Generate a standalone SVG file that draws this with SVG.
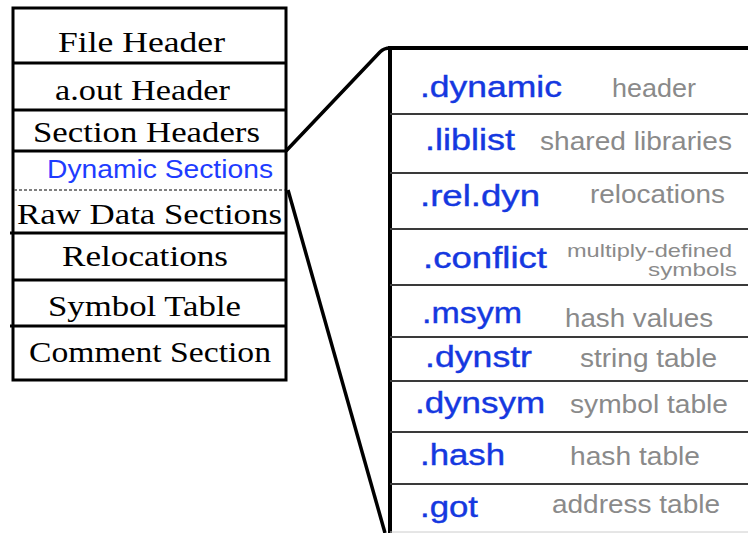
<svg xmlns="http://www.w3.org/2000/svg" width="748" height="533" viewBox="0 0 748 533">
<style>
.box{fill:#fff;stroke:#000;stroke-width:3}
.sep{stroke:#000;stroke-width:3}
.serif{font-family:"Liberation Serif","Times New Roman",serif;font-size:30px;fill:#000}
.blueL{font-family:"Liberation Sans",Arial,sans-serif;font-size:26px;fill:#1e3cff}
.sec{font-family:"Liberation Sans",Arial,sans-serif;font-size:30px;fill:#1538e0;stroke:#1538e0;stroke-width:0.4}
.desc{font-family:"Liberation Sans",Arial,sans-serif;font-size:26px;fill:#8a8a8a}
.small{font-family:"Liberation Sans",Arial,sans-serif;font-size:19px;fill:#8a8a8a}
.rsep{stroke:#3a3a3a;stroke-width:2}
.conn{fill:none;stroke:#000;stroke-width:3.5}
</style>
<rect width="748" height="533" fill="#fff"/>
<g id="file-layout">
<rect class="box" x="13" y="8" width="273" height="372"/>
<line class="sep" x1="13" y1="63" x2="286" y2="63"/>
<line class="sep" x1="13" y1="110" x2="286" y2="110"/>
<line class="sep" x1="13" y1="151" x2="286" y2="151"/>
<line x1="14" y1="190" x2="285" y2="190" stroke="#555" stroke-width="1.5" stroke-dasharray="3,2"/>
<line class="sep" x1="10" y1="233" x2="286" y2="233"/>
<line class="sep" x1="13" y1="280" x2="286" y2="280"/>
<line class="sep" x1="10" y1="326" x2="286" y2="326"/>
</g>
<g id="n-file-header"><text class="serif" x="58" y="52" textLength="167" lengthAdjust="spacingAndGlyphs">File Header</text></g>
<g id="n-aout-header"><text class="serif" x="55" y="100" textLength="175" lengthAdjust="spacingAndGlyphs">a.out Header</text></g>
<g id="n-section-headers"><text class="serif" x="33" y="142" textLength="227" lengthAdjust="spacingAndGlyphs">Section Headers</text></g>
<g id="n-dynamic-sections"><text class="blueL" x="47" y="178" textLength="226" lengthAdjust="spacingAndGlyphs">Dynamic Sections</text></g>
<g id="n-raw-data"><text class="serif" x="17" y="224" textLength="265" lengthAdjust="spacingAndGlyphs">Raw Data Sections</text></g>
<g id="n-relocations"><text class="serif" x="62" y="266" textLength="166" lengthAdjust="spacingAndGlyphs">Relocations</text></g>
<g id="n-symbol-table"><text class="serif" x="48" y="316" textLength="193" lengthAdjust="spacingAndGlyphs">Symbol Table</text></g>
<g id="n-comment-section"><text class="serif" x="29" y="362" textLength="242" lengthAdjust="spacingAndGlyphs">Comment Section</text></g>

<g id="connectors">
<path class="conn" d="M286,151 L380,52 Q384,48 390,48"/>
<path class="conn" d="M288,190 L385,533"/>
</g>

<g id="dynamic-detail">
<line x1="390" y1="48" x2="748" y2="48" stroke="#000" stroke-width="4"/>
<line x1="390" y1="46" x2="390" y2="533" stroke="#000" stroke-width="4"/>
<line class="rsep" x1="390" y1="114" x2="748" y2="114"/>
<line class="rsep" x1="390" y1="173" x2="748" y2="173"/>
<line class="rsep" x1="390" y1="229" x2="748" y2="229"/>
<line class="rsep" x1="390" y1="285" x2="748" y2="285"/>
<line class="rsep" x1="390" y1="337" x2="748" y2="337"/>
<line class="rsep" x1="390" y1="381" x2="748" y2="381"/>
<line class="rsep" x1="390" y1="432" x2="748" y2="432"/>
<line class="rsep" x1="390" y1="484" x2="748" y2="484"/>
<line x1="390" y1="532" x2="748" y2="532" stroke="#ccc" stroke-width="1"/>
</g>
<g id="n-dynamic"><text class="sec" x="420" y="97" textLength="142" lengthAdjust="spacingAndGlyphs">.dynamic</text><text class="desc" x="612" y="97" textLength="84" lengthAdjust="spacingAndGlyphs">header</text></g>
<g id="n-liblist"><text class="sec" x="425" y="150" textLength="90" lengthAdjust="spacingAndGlyphs">.liblist</text><text class="desc" x="540" y="150" textLength="192" lengthAdjust="spacingAndGlyphs">shared libraries</text></g>
<g id="n-reldyn"><text class="sec" x="420" y="206" textLength="120" lengthAdjust="spacingAndGlyphs">.rel.dyn</text><text class="desc" x="590" y="203" textLength="135" lengthAdjust="spacingAndGlyphs">relocations</text></g>
<g id="n-conflict"><text class="sec" x="423" y="268" textLength="124" lengthAdjust="spacingAndGlyphs">.conflict</text><text class="small" x="567" y="257" textLength="165" lengthAdjust="spacingAndGlyphs">multiply-defined</text><text class="small" x="648" y="276" textLength="89" lengthAdjust="spacingAndGlyphs">symbols</text></g>
<g id="n-msym"><text class="sec" x="422" y="323" textLength="100" lengthAdjust="spacingAndGlyphs">.msym</text><text class="desc" x="565" y="327" textLength="148" lengthAdjust="spacingAndGlyphs">hash values</text></g>
<g id="n-dynstr"><text class="sec" x="425" y="367" textLength="107" lengthAdjust="spacingAndGlyphs">.dynstr</text><text class="desc" x="580" y="367" textLength="137" lengthAdjust="spacingAndGlyphs">string table</text></g>
<g id="n-dynsym"><text class="sec" x="415" y="413" textLength="130" lengthAdjust="spacingAndGlyphs">.dynsym</text><text class="desc" x="570" y="413" textLength="158" lengthAdjust="spacingAndGlyphs">symbol table</text></g>
<g id="n-hash"><text class="sec" x="420" y="465" textLength="85" lengthAdjust="spacingAndGlyphs">.hash</text><text class="desc" x="570" y="465" textLength="130" lengthAdjust="spacingAndGlyphs">hash table</text></g>
<g id="n-got"><text class="sec" x="420" y="517" textLength="58" lengthAdjust="spacingAndGlyphs">.got</text><text class="desc" x="552" y="513" textLength="168" lengthAdjust="spacingAndGlyphs">address table</text></g>
</svg>
